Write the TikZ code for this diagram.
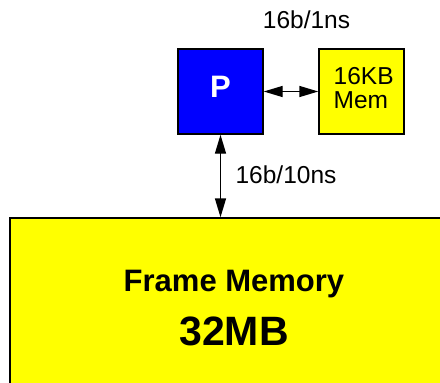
\documentclass[tikz,border=0pt]{standalone}
\usepackage{fontspec}
\setmainfont{Liberation Sans}
\usetikzlibrary{arrows.meta}
\definecolor{boxyellow}{RGB}{255,255,0}
\definecolor{boxblue}{RGB}{0,0,255}
\begin{document}
\begin{tikzpicture}[x=1pt,y=-1pt,
  box/.style={draw=black,line width=1.4pt,minimum width=85pt,minimum height=85pt,inner sep=0pt},
  lbl/.style={inner sep=0pt,font=\fontsize{24.5}{23.5}\selectfont},
  link/.style={line width=1.4pt,{Triangle[length=19pt,width=11pt]}-{Triangle[length=19pt,width=11pt]}}]
\useasboundingbox (0,0) rectangle (440,383);
\clip (0,0) rectangle (440,383);
\node[box,fill=boxblue] (P) at (220.5,91.5) {};
\node[inner sep=0pt,text=white,font=\fontsize{31}{31}\selectfont\bfseries,anchor=base] (Plbl) at (220.5,97) {P};
\node[box,fill=boxyellow] (M) at (361.5,91.5) {};
\node[lbl,align=left,anchor=west] (Mlbl) at (333.5,88) {16KB\\Mem};
\node[draw=black,line width=1.4pt,fill=boxyellow,minimum width=448pt,minimum height=202pt,inner sep=0pt] (F) at (234,319) {};
\node[inner sep=0pt,font=\fontsize{31}{31}\selectfont\bfseries,anchor=base] (Fl1) at (234,291.7) {Frame Memory};
\node[inner sep=0pt,font=\fontsize{41}{41}\selectfont\bfseries,anchor=base] (Fl2) at (234,345) {32MB};
\node[lbl,anchor=base] (r1) at (306.5,28.3) {16b/1ns};
\node[lbl,anchor=base] (r2) at (286,183.3) {16b/10ns};
\draw[link] (P.east) -- (M.west);
\draw[link] (P.south) -- (P.south |- F.north);
\end{tikzpicture}
\end{document}
